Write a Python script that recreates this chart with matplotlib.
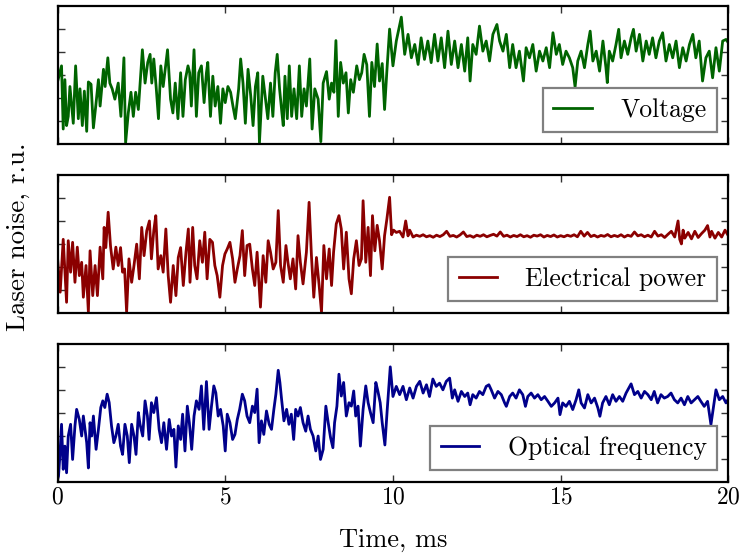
import matplotlib
matplotlib.use('Agg')
import matplotlib.pyplot as plt

plt.rcParams['font.family'] = 'cmr10'
plt.rcParams['mathtext.fontset'] = 'cm'
plt.rcParams['axes.formatter.use_mathtext'] = True

# (time in ms, noise in r.u.)
voltage_pts = [
    (0.00, 2.7), (0.12, 3.4), (0.17, 0.65), (0.22, 2.8), (0.27, 0.8), (0.32, 1.2), (0.37, 2.5),
    (0.47, 0.9), (0.54, 3.4), (0.62, 1.1), (0.67, 2.4), (0.74, 0.8), (0.80, 2.3), (0.87, 0.55),
    (0.92, 2.7), (1.00, 2.6), (1.07, 0.7), (1.14, 1.65), (1.22, 2.8), (1.27, 1.65), (1.37, 3.25),
    (1.42, 2.5), (1.50, 3.75), (1.56, 2.65), (1.63, 2.4), (1.71, 1.95), (1.81, 2.65), (1.89, 1.2),
    (1.98, 3.75), (2.03, 0.05), (2.11, 1.35), (2.19, 2.25), (2.26, 1.2), (2.33, 2.25), (2.41, 1.5),
    (2.53, 4.1), (2.61, 2.65), (2.69, 3.55), (2.76, 3.9), (2.81, 2.65), (2.87, 3.7), (2.94, 2.5),
    (3.01, 1.1), (3.08, 3.4), (3.15, 2.5), (3.28, 4.1), (3.37, 1.95), (3.44, 1.35), (3.51, 2.65),
    (3.59, 1.1), (3.67, 3.1), (3.74, 1.2), (3.81, 2.8), (3.89, 3.4), (3.94, 3.1), (3.99, 1.65),
    (4.07, 4.1), (4.14, 1.2), (4.21, 3.1), (4.29, 3.4), (4.37, 1.8), (4.44, 3.1), (4.48, 3.55),
    (4.56, 1.2), (4.63, 2.95), (4.70, 1.65), (4.78, 2.5), (4.86, 0.9), (4.93, 2.4), (5.00, 1.8),
    (5.08, 2.5), (5.16, 2.25), (5.23, 1.65), (5.30, 1.1), (5.40, 2.4), (5.46, 3.7), (5.53, 2.65),
    (5.60, 0.9), (5.68, 3.25), (5.76, 2.1), (5.83, 0.8), (5.90, 2.5), (5.97, 3.1), (6.02, 0.05),
    (6.12, 2.95), (6.19, 2.1), (6.27, 1.1), (6.35, 2.65), (6.42, 1.2), (6.49, 3.1), (6.55, 3.9),
    (6.62, 2.4), (6.69, 1.35), (6.73, 0.8), (6.78, 2.95), (6.85, 1.1), (6.91, 3.4), (6.98, 1.2),
    (7.05, 2.4), (7.13, 1.1), (7.21, 3.4), (7.28, 1.2), (7.35, 2.4), (7.42, 1.65), (7.52, 3.7),
    (7.59, 0.65), (7.67, 2.4), (7.77, 1.95), (7.85, 0.1), (7.92, 2.65), (8.02, 3.15), (8.10, 1.95),
    (8.17, 2.65), (8.24, 2.25), (8.30, 4.5), (8.37, 1.2), (8.44, 3.55), (8.52, 2.65), (8.60, 3.1),
    (8.67, 1.35), (8.74, 2.8), (8.82, 2.25), (8.92, 3.4), (9.00, 2.8), (9.07, 3.1), (9.14, 3.9),
    (9.22, 3.45), (9.30, 1.2), (9.37, 3.55), (9.45, 2.5), (9.53, 4.35), (9.60, 2.74), (9.68, 3.5),
    (9.75, 1.5), (9.82, 3.2), (9.90, 5.0), (10.00, 3.4), (10.10, 4.48), (10.25, 5.52),
    (10.35, 3.9), (10.45, 4.77), (10.55, 3.75), (10.65, 4.33), (10.75, 3.46), (10.84, 4.62),
    (10.94, 3.68), (11.04, 4.48), (11.14, 3.54), (11.24, 4.77), (11.34, 3.61), (11.44, 4.62),
    (11.54, 3.32), (11.64, 4.91), (11.74, 3.46), (11.84, 4.48), (11.94, 3.32), (12.04, 4.33),
    (12.14, 3.17), (12.23, 4.62), (12.30, 2.74), (12.38, 4.33), (12.48, 3.9), (12.58, 5.13),
    (12.68, 4.04), (12.78, 4.48), (12.88, 3.61), (12.98, 4.77), (13.10, 5.2), (13.18, 4.48),
    (13.28, 4.04), (13.38, 4.77), (13.48, 3.32), (13.57, 4.33), (13.67, 3.32), (13.77, 4.04),
    (13.89, 2.74), (13.97, 4.19), (14.07, 3.75), (14.17, 4.33), (14.27, 3.17), (14.37, 4.04),
    (14.47, 3.61), (14.57, 4.19), (14.67, 3.32), (14.77, 4.84), (14.87, 3.9), (14.96, 4.33),
    (15.06, 3.46), (15.16, 4.04), (15.26, 3.75), (15.36, 3.32), (15.43, 2.48), (15.51, 3.61),
    (15.61, 4.04), (15.71, 3.32), (15.81, 4.33), (15.88, 4.91), (15.96, 3.61), (16.06, 4.04),
    (16.16, 3.17), (16.26, 4.48), (16.35, 3.32), (16.39, 2.67), (16.45, 4.04), (16.55, 3.61),
    (16.65, 4.33), (16.73, 4.99), (16.80, 3.75), (16.90, 4.48), (17.00, 3.9), (17.10, 4.62),
    (17.17, 4.99), (17.25, 4.04), (17.35, 4.77), (17.45, 3.61), (17.55, 4.48), (17.64, 3.9),
    (17.74, 4.62), (17.84, 3.75), (17.94, 4.48), (18.04, 4.84), (18.14, 3.61), (18.24, 4.33),
    (18.34, 3.75), (18.44, 4.48), (18.54, 3.32), (18.64, 4.19), (18.74, 3.61), (18.84, 4.33),
    (18.94, 4.77), (19.03, 3.75), (19.13, 4.48), (19.23, 2.74), (19.33, 3.75), (19.43, 4.04),
    (19.53, 2.88), (19.63, 4.19), (19.73, 3.17), (19.83, 4.48), (19.93, 4.55), (20.00, 4.4),
]

power_pts = [
    (0.00, 2.4), (0.08, 0.9), (0.17, 3.2), (0.27, 0.46), (0.32, 3.14), (0.39, 1.77), (0.45, 3.07),
    (0.52, 1.33), (0.59, 2.86), (0.65, 1.62), (0.72, 2.2), (0.77, 0.68), (0.85, 2.06), (0.92, 0.03),
    (0.97, 2.7), (1.05, 0.75), (1.12, 2.06), (1.19, 0.75), (1.27, 2.86), (1.35, 1.48), (1.39, 3.72),
    (1.44, 2.84), (1.51, 4.38), (1.58, 2.91), (1.66, 1.91), (1.74, 2.86), (1.81, 2.06), (1.88, 2.84),
    (1.94, 1.77), (2.00, 1.91), (2.06, 0.03), (2.13, 2.35), (2.21, 1.33), (2.28, 2.06), (2.36, 2.99),
    (2.44, 1.48), (2.51, 3.72), (2.58, 2.49), (2.66, 3.57), (2.74, 4.0), (2.80, 2.35), (2.87, 3.58),
    (2.93, 4.23), (3.00, 1.91), (3.08, 2.49), (3.15, 1.77), (3.23, 3.65), (3.30, 1.62), (3.37, 0.46),
    (3.45, 2.06), (3.53, 0.75), (3.60, 2.41), (3.67, 2.84), (3.75, 1.19), (3.83, 2.64), (3.90, 3.65),
    (3.95, 1.33), (4.03, 3.72), (4.09, 2.06), (4.16, 1.48), (4.24, 3.14), (4.32, 2.2), (4.39, 3.51),
    (4.46, 1.48), (4.54, 3.2), (4.62, 3.07), (4.69, 2.06), (4.76, 1.62), (4.84, 0.68), (4.92, 2.06),
    (4.99, 2.56), (5.06, 2.78), (5.14, 3.07), (5.22, 2.35), (5.29, 1.33), (5.36, 1.91), (5.44, 2.49),
    (5.51, 3.58), (5.58, 1.62), (5.65, 2.93), (5.73, 2.99), (5.81, 1.91), (5.88, 1.19), (5.95, 2.64),
    (6.05, 0.25), (6.13, 2.49), (6.21, 1.33), (6.28, 3.14), (6.35, 2.64), (6.43, 1.91), (6.51, 2.2),
    (6.58, 4.45), (6.65, 2.06), (6.73, 1.33), (6.81, 2.93), (6.87, 2.2), (6.94, 1.48), (7.02, 2.35),
    (7.10, 1.04), (7.17, 3.36), (7.24, 2.2), (7.32, 1.26), (7.42, 2.64), (7.50, 4.81), (7.57, 2.49),
    (7.64, 0.68), (7.72, 2.41), (7.80, 1.19), (7.87, 0.03), (7.94, 2.93), (8.02, 1.48), (8.10, 2.78),
    (8.17, 1.19), (8.23, 2.64), (8.31, 3.87), (8.39, 4.23), (8.46, 3.65), (8.53, 1.91), (8.61, 3.51),
    (8.69, 1.48), (8.76, 0.83), (8.83, 2.35), (8.91, 3.14), (8.99, 2.06), (9.06, 2.35), (9.11, 4.88),
    (9.19, 2.2), (9.26, 3.72), (9.33, 1.62), (9.39, 4.23), (9.46, 2.7), (9.53, 3.81), (9.60, 3.14),
    (9.68, 1.91), (9.75, 3.36), (9.82, 4.09), (9.90, 5.03), (9.96, 3.4), (10.02, 3.6), (10.10, 3.5),
    (10.20, 3.55), (10.30, 3.3), (10.38, 4.0), (10.45, 3.35), (10.50, 3.6), (10.60, 3.30),
    (10.70, 3.38), (10.80, 3.33), (10.90, 3.40), (11.00, 3.31), (11.10, 3.36), (11.20, 3.29),
    (11.30, 3.38), (11.40, 3.32), (11.50, 3.40), (11.60, 3.55), (11.70, 3.33), (11.80, 3.37),
    (11.90, 3.30), (12.00, 3.39), (12.10, 3.52), (12.20, 3.32), (12.30, 3.36), (12.40, 3.29),
    (12.50, 3.38), (12.60, 3.33), (12.70, 3.40), (12.80, 3.31), (12.90, 3.37), (13.00, 3.42),
    (13.10, 3.34), (13.20, 3.52), (13.30, 3.33), (13.40, 3.38), (13.50, 3.30), (13.60, 3.37),
    (13.70, 3.32), (13.80, 3.40), (13.90, 3.31), (14.00, 3.36), (14.10, 3.29), (14.20, 3.38),
    (14.30, 3.34), (14.40, 3.40), (14.50, 3.30), (14.60, 3.37), (14.70, 3.32), (14.80, 3.39),
    (14.90, 3.30), (15.00, 3.36), (15.10, 3.31), (15.20, 3.38), (15.30, 3.33), (15.40, 3.40),
    (15.50, 3.31), (15.60, 3.55), (15.70, 3.34), (15.80, 3.50), (15.90, 3.32), (16.00, 3.38),
    (16.10, 3.30), (16.20, 3.37), (16.30, 3.33), (16.40, 3.41), (16.50, 3.31), (16.60, 3.37),
    (16.70, 3.32), (16.80, 3.40), (16.90, 3.30), (17.00, 3.38), (17.10, 3.33), (17.20, 3.52),
    (17.30, 3.35), (17.40, 3.40), (17.50, 3.31), (17.60, 3.38), (17.70, 3.30), (17.80, 3.55),
    (17.90, 3.34), (18.00, 3.40), (18.10, 3.28), (18.20, 3.42), (18.30, 3.55), (18.40, 3.30),
    (18.50, 4.0), (18.55, 3.2), (18.60, 3.0), (18.65, 3.6), (18.70, 3.25), (18.80, 3.5),
    (18.90, 3.22), (19.00, 3.55), (19.10, 3.28), (19.20, 3.45), (19.30, 3.60), (19.38, 3.80),
    (19.45, 3.3), (19.50, 3.55), (19.60, 3.25), (19.70, 3.5), (19.80, 3.3), (19.90, 3.6),
    (20.00, 3.35),
]

optical_pts = [
    (0.00, 0.1), (0.03, 0.25), (0.07, 1.12), (0.12, 2.5), (0.17, 0.54), (0.22, 1.55), (0.27, 0.39),
    (0.32, 1.99), (0.39, 2.5), (0.45, 0.97), (0.52, 2.43), (0.57, 3.15), (0.65, 2.71), (0.72, 1.99),
    (0.77, 2.86), (0.82, 2.28), (0.87, 1.7), (0.92, 0.6), (0.97, 2.57), (1.02, 1.99), (1.07, 2.86),
    (1.15, 1.41), (1.22, 2.28), (1.29, 3.23), (1.35, 3.52), (1.41, 3.23), (1.48, 3.81), (1.54, 3.45),
    (1.61, 2.43), (1.68, 1.7), (1.74, 1.99), (1.81, 2.5), (1.88, 1.55), (1.94, 1.19), (2.01, 2.5),
    (2.08, 1.99), (2.14, 0.83), (2.21, 2.5), (2.28, 1.99), (2.34, 1.19), (2.41, 3.01), (2.46, 2.5),
    (2.54, 1.99), (2.61, 3.52), (2.68, 2.86), (2.73, 1.84), (2.80, 3.44), (2.87, 3.01), (2.95, 3.66),
    (3.03, 2.28), (3.10, 1.7), (3.17, 2.57), (3.25, 1.41), (3.33, 2.71), (3.40, 1.99), (3.47, 2.28),
    (3.53, 0.64), (3.60, 2.43), (3.67, 1.84), (3.73, 2.94), (3.80, 1.34), (3.87, 3.29), (3.93, 2.57),
    (4.00, 1.41), (4.07, 2.86), (4.14, 3.52), (4.22, 3.15), (4.29, 4.17), (4.36, 2.28), (4.44, 4.36),
    (4.52, 2.28), (4.59, 3.29), (4.66, 4.17), (4.72, 3.87), (4.79, 2.86), (4.86, 3.15), (4.94, 2.43),
    (5.00, 1.34), (5.06, 2.94), (5.14, 2.57), (5.22, 1.84), (5.29, 2.06), (5.36, 2.71), (5.43, 3.15),
    (5.51, 3.81), (5.58, 3.52), (5.65, 2.86), (5.73, 2.57), (5.81, 3.29), (5.88, 3.01), (5.95, 4.03),
    (6.01, 1.7), (6.08, 2.65), (6.15, 2.06), (6.23, 3.08), (6.31, 2.5), (6.38, 2.28), (6.45, 3.15),
    (6.51, 3.81), (6.58, 4.85), (6.63, 4.32), (6.68, 3.59), (6.75, 2.65), (6.83, 3.15), (6.90, 2.5),
    (6.97, 2.94), (7.04, 1.84), (7.10, 3.15), (7.17, 2.86), (7.24, 3.23), (7.32, 2.57), (7.40, 2.2),
    (7.47, 2.86), (7.54, 2.28), (7.62, 1.99), (7.70, 1.34), (7.77, 1.99), (7.84, 0.97), (7.92, 1.41),
    (8.00, 3.29), (8.07, 2.57), (8.14, 1.92), (8.21, 1.48), (8.26, 2.57), (8.33, 3.29), (8.39, 4.68),
    (8.46, 3.73), (8.53, 4.32), (8.61, 2.86), (8.69, 3.44), (8.76, 3.29), (8.83, 3.95), (8.89, 2.86),
    (8.96, 3.29), (9.03, 1.55), (9.11, 3.15), (9.19, 4.17), (9.26, 3.44), (9.33, 3.01), (9.41, 2.57),
    (9.49, 4.32), (9.55, 3.95), (9.62, 3.44), (9.68, 2.57), (9.76, 1.6), (9.83, 3.15), (9.92, 5.0),
    (10.00, 3.71), (10.10, 4.15), (10.20, 3.79), (10.30, 4.15), (10.40, 3.57), (10.50, 4.08),
    (10.60, 3.64), (10.70, 4.15), (10.80, 4.37), (10.90, 3.86), (11.00, 4.22), (11.09, 3.71),
    (11.19, 4.47), (11.29, 4.15), (11.39, 4.29), (11.49, 4.0), (11.59, 4.37), (11.69, 4.51),
    (11.77, 3.64), (11.84, 4.0), (11.94, 3.5), (12.04, 3.93), (12.14, 3.71), (12.23, 3.86),
    (12.30, 3.35), (12.38, 3.79), (12.48, 3.64), (12.58, 3.93), (12.68, 3.79), (12.78, 4.15),
    (12.86, 4.22), (12.93, 4.0), (13.03, 3.64), (13.13, 3.93), (13.23, 3.79), (13.33, 3.43),
    (13.38, 3.28), (13.48, 3.71), (13.57, 3.86), (13.67, 3.64), (13.77, 4.0), (13.87, 3.79),
    (13.95, 3.28), (14.02, 3.71), (14.12, 3.86), (14.22, 3.64), (14.32, 3.79), (14.42, 3.57),
    (14.52, 3.71), (14.62, 3.5), (14.72, 3.28), (14.82, 3.43), (14.92, 3.64), (14.98, 2.92),
    (15.06, 3.43), (15.16, 3.28), (15.26, 3.5), (15.36, 3.14), (15.46, 3.57), (15.54, 4.0),
    (15.61, 3.43), (15.71, 3.21), (15.81, 3.79), (15.91, 3.43), (16.01, 3.64), (16.11, 3.21),
    (16.17, 2.85), (16.25, 3.43), (16.35, 3.71), (16.45, 3.35), (16.55, 3.79), (16.65, 3.5),
    (16.75, 3.71), (16.85, 3.5), (16.95, 3.86), (17.10, 4.26), (17.20, 3.79), (17.30, 3.93),
    (17.40, 3.64), (17.50, 3.93), (17.60, 3.79), (17.70, 3.57), (17.79, 3.93), (17.89, 3.43),
    (17.99, 3.79), (18.09, 3.64), (18.19, 3.71), (18.29, 3.86), (18.39, 3.57), (18.49, 3.43),
    (18.59, 3.64), (18.69, 3.35), (18.79, 3.71), (18.89, 3.43), (18.99, 3.57), (19.09, 3.71),
    (19.18, 3.5), (19.28, 3.28), (19.38, 3.5), (19.48, 2.49), (19.58, 3.5), (19.63, 4.0),
    (19.73, 3.57), (19.83, 3.71), (19.93, 3.43), (20.00, 3.6),
]

series = [
    (voltage_pts, '#006400', 'Voltage'),
    (power_pts, '#8b0000', 'Electrical power'),
    (optical_pts, '#00008b', 'Optical frequency'),
]

x_ticks = [0, 5, 10, 15, 20]
y_ticks = [1, 2, 3, 4, 5]

fig, axes = plt.subplots(3, 1, figsize=(7.44, 5.55), dpi=100, sharex=True)
plt.subplots_adjust(left=0.0773, right=0.979, top=0.989, bottom=0.132, hspace=0.225)

for ax, (pts, color, label) in zip(axes, series):
    t, v = zip(*pts)
    ax.plot(t, v, color=color, lw=2.0, label=label)
    ax.set_xlim(0, 20)
    ax.set_ylim(0, 6)
    ax.set_xticks(x_ticks)
    ax.set_yticks(y_ticks)
    ax.tick_params(direction='in', length=5, width=1.0, color='#333333',
                   top=True, right=True, labelleft=False, labelsize=17)
    for sp in ax.spines.values():
        sp.set_linewidth(1.6)
        sp.set_color('black')
    leg = ax.legend(loc='lower right', fontsize=18.5, fancybox=False, framealpha=1,
                    edgecolor='#808080', handlelength=1.5, handletextpad=1.1,
                    borderaxespad=0.45)
    leg.get_frame().set_linewidth(1.6)

axes[-1].set_xlabel('Time, ms', fontsize=19, labelpad=14)
fig.text(0.024, 0.573, 'Laser noise, r.u.', rotation=90, ha='center', va='center', fontsize=19.5)

fig.savefig('out.png', dpi=100)
